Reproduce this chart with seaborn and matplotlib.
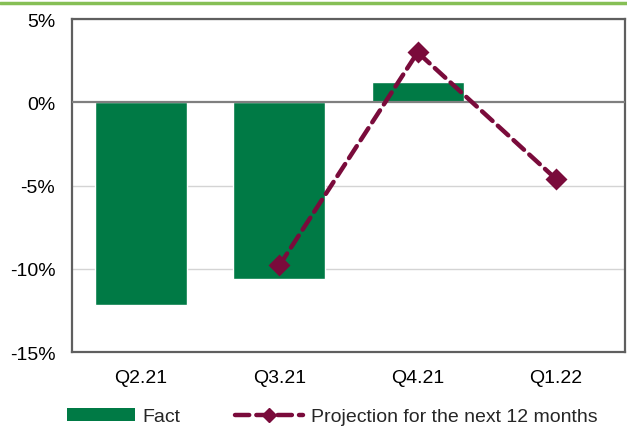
import numpy as np
import pandas as pd
import matplotlib
matplotlib.use("Agg")
import matplotlib.pyplot as plt
from matplotlib.lines import Line2D
from matplotlib.patches import Patch
import seaborn as sns

categories = ["Q2.21", "Q3.21", "Q4.21", "Q1.22"]
fact = [-12.2, -10.6, 1.2, np.nan]
projection = [np.nan, -9.8, 3.0, -4.6]
yticks = [5, 0, -5, -10, -15]
ytick_labels = ["5%", "0%", "-5%", "-10%", "-15%"]

GREEN = "#007A45"
MAROON = "#7A0B3B"
FRAME = "#5F5F5F"
FS = 14

sns.set_style("white")
plt.rcParams["font.family"] = ["Liberation Sans", "DejaVu Sans"]

df = pd.DataFrame({"quarter": categories, "fact": fact, "projection": projection})

fig = plt.figure(figsize=(6.27, 4.27), dpi=100)
ax = fig.add_axes([0.1148, 0.1733, 0.8820, 0.7797])

sns.barplot(data=df, x="quarter", y="fact", order=categories, color=GREEN,
            saturation=1, width=0.665, ax=ax, zorder=2)

proj = df.dropna(subset=["projection"])
sns.pointplot(data=proj, x="quarter", y="projection", order=categories,
              color=MAROON, markers="D", linestyles="--", ax=ax, zorder=4)
for ln in ax.lines:
    ln.set_linewidth(3.2)
    ln.set_dashes((3.2, 1.6))
    ln.set_dash_capstyle("round")
    ln.set_markersize(9.5)
    ln.set_zorder(4)

ax.set_xlim(-0.5, 3.5)
ax.set_ylim(-15, 5)
ax.set_yticks(yticks)
ax.set_yticklabels(ytick_labels)
ax.set_xlabel("")
ax.set_ylabel("")

for y in yticks:
    if y != 0:
        ax.axhline(y, color="#D4D4D4", lw=1.0, zorder=1)
ax.axhline(0, color="#7F7F7F", lw=1.6, zorder=3)

for s in ax.spines.values():
    s.set_visible(True)
    s.set_color(FRAME)
    s.set_linewidth(1.6)

ax.tick_params(axis="y", direction="in", length=4, color=FRAME, labelsize=FS,
               pad=12, labelcolor="black")
ax.tick_params(axis="x", length=0, labelsize=FS, pad=12, labelcolor="black")

# green rule across the top of the page
fig.add_artist(Line2D([0, 1], [0.990, 0.990], transform=fig.transFigure,
                      color="#86BF55", lw=2.5))

handles = [
    Patch(facecolor=GREEN, edgecolor="none"),
    Line2D([0], [0], color=MAROON, lw=3.2, dashes=(3.2, 1.6),
           dash_capstyle="round", marker="D", markersize=7),
]
fig.legend(handles, ["Fact", "Projection for the next 12 months"],
           loc="center", bbox_to_anchor=(0.53, 0.022), ncol=2, frameon=False,
           fontsize=FS, handlelength=3.5, handleheight=0.7, columnspacing=2.8,
           handletextpad=0.4)

fig.savefig("out.png", dpi=100)
